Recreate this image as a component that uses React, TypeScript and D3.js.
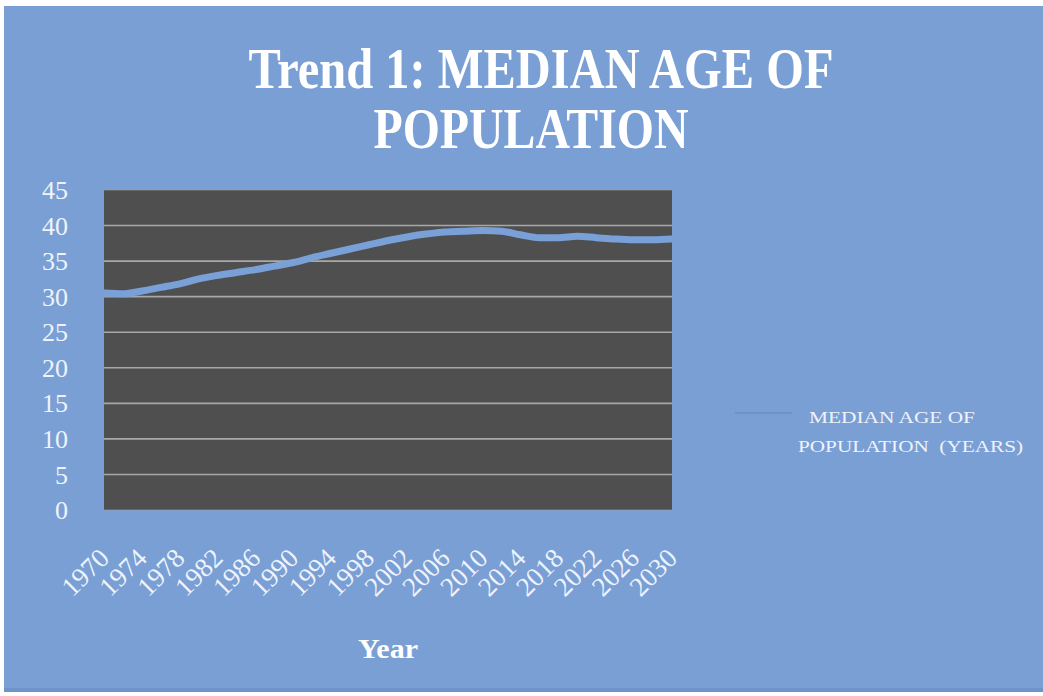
import React from "react";
import * as d3 from "d3";

const years: number[] = [1970, 1972, 1974, 1976, 1978, 1980, 1982, 1984, 1986, 1988, 1990, 1992, 1994, 1996, 1998, 2000, 2002, 2004, 2006, 2008, 2010, 2012, 2014, 2016, 2018, 2020, 2022, 2024, 2026, 2028, 2030];
const medianAge: number[] = [30.5, 30.4, 30.8, 31.3, 31.8, 32.5, 33.0, 33.4, 33.8, 34.3, 34.8, 35.5, 36.1, 36.7, 37.3, 37.9, 38.4, 38.8, 39.1, 39.2, 39.3, 39.2, 38.7, 38.3, 38.3, 38.5, 38.3, 38.1, 38.0, 38.0, 38.1];
const xTickLabels: number[] = [1970, 1974, 1978, 1982, 1986, 1990, 1994, 1998, 2002, 2006, 2010, 2014, 2018, 2022, 2026, 2030];
const yTicks: number[] = [0, 5, 10, 15, 20, 25, 30, 35, 40, 45];
const titleLines: string[] = ["Trend 1: MEDIAN AGE OF", "POPULATION"];
const legendLines: string[] = ["MEDIAN AGE OF", "POPULATION  (YEARS)"];
const xTitle = "Year";

const W = 1043;
const H = 696;
const plot = { left: 104, right: 672, top: 190, bottom: 510 };
const serif = "'Liberation Serif', 'DejaVu Serif', serif";

export default function App() {
  const x = d3.scalePoint<number>().domain(years).range([plot.left, plot.right]);
  const y = d3.scaleLinear().domain([0, 45]).range([plot.bottom, plot.top]);
  const line = d3
    .line<number>()
    .x((_, i) => x(years[i]) as number)
    .y((d) => y(d))
    .curve(d3.curveMonotoneX);

  const titleGeom = [
    { cx: 541, base: 88, len: 585 },
    { cx: 531, base: 148, len: 315 },
  ];

  return (
    <svg width={W} height={H} style={{ position: "absolute", left: 0, top: 0 }}>
      <rect x={0} y={0} width={W} height={H} fill="#ffffff" />
      <rect x={4} y={6} width={W - 4} height={686} fill="#7a9fd4" />
      <rect x={4} y={688} width={W - 4} height={4} fill="#6f94c9" />
      {titleLines.map((t, i) => (
        <text
          key={t}
          x={titleGeom[i].cx}
          y={titleGeom[i].base}
          textAnchor="middle"
          fill="#ffffff"
          fontFamily={serif}
          fontWeight="bold"
          fontSize={58}
          textLength={titleGeom[i].len}
          lengthAdjust="spacingAndGlyphs"
        >
          {t}
        </text>
      ))}
      <rect x={plot.left} y={plot.top} width={plot.right - plot.left} height={plot.bottom - plot.top} fill="#4f4f4f" />
      {yTicks.map((v) => (
        <line
          key={"g" + v}
          x1={plot.left}
          x2={plot.right}
          y1={y(v)}
          y2={y(v)}
          stroke="#a8a8a8"
          strokeWidth={v === 0 || v === 45 ? 1 : 1.6}
          strokeOpacity={v === 0 || v === 45 ? 0.5 : 1}
        />
      ))}
      <path d={line(medianAge) || ""} fill="none" stroke="#7aa0d8" strokeWidth={7} strokeLinecap="round" strokeLinejoin="round" />
      {yTicks.map((v) => (
        <text key={"y" + v} x={68} y={y(v)} dy="0.35em" textAnchor="end" fill="#eef3fb" fontFamily={serif} fontSize={26}>
          {v}
        </text>
      ))}
      {xTickLabels.map((yr) => {
        const px = x(yr) as number;
        const py = 553;
        return (
          <text
            key={"x" + yr}
            transform={`translate(${px},${py}) rotate(-45)`}
            textAnchor="end"
            dy="0.35em"
            fill="#eef3fb"
            fontFamily={serif}
            fontSize={27}
          >
            {yr}
          </text>
        );
      })}
      <text x={388} y={658} textAnchor="middle" fill="#ffffff" fontFamily={serif} fontWeight="bold" fontSize={27} textLength={60} lengthAdjust="spacingAndGlyphs">
        {xTitle}
      </text>
      <line x1={735} x2={792} y1={413} y2={413} stroke="#6d93cb" strokeWidth={2} />
      <text x={809} y={423} fill="#eef3fb" fontFamily={serif} fontSize={17} textLength={166} lengthAdjust="spacingAndGlyphs">
        {legendLines[0]}
      </text>
      <text x={798} y={452} fill="#eef3fb" fontFamily={serif} fontSize={17} textLength={225} lengthAdjust="spacingAndGlyphs" style={{ whiteSpace: "pre" }}>
        {legendLines[1]}
      </text>
    </svg>
  );
}
